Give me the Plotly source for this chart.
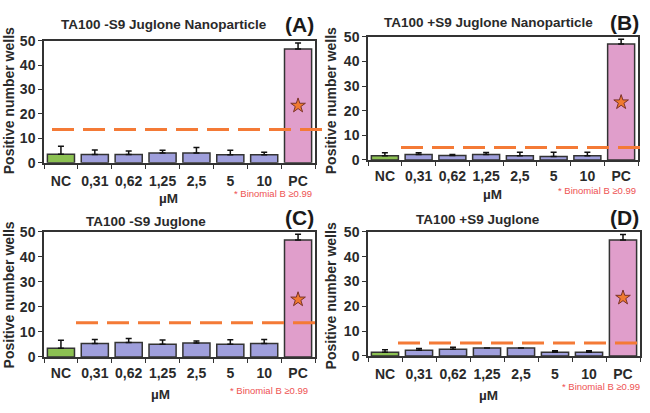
import plotly.graph_objects as go

W, H = 650, 413

categories = ["NC", "0,31", "0,62", "1,25", "2,5", "5", "10", "PC"]

titles = ["TA100 -S9 Juglone Nanoparticle", "TA100 +S9 Juglone Nanoparticle",
          "TA100 -S9 Juglone", "TA100 +S9 Juglone"]
panel_labels = ["(A)", "(B)", "(C)", "(D)"]

means_A = [3.5, 3.4, 3.4, 4.0, 4.0, 3.3, 3.3, 46.6]
sd_A = [3.3, 1.8, 1.4, 1.1, 2.2, 1.8, 1.0, 2.4]
means_B = [1.7, 2.2, 1.8, 2.2, 1.7, 1.4, 1.7, 47.1]
sd_B = [1.2, 0.7, 0.4, 0.8, 1.4, 1.7, 1.4, 1.9]
means_C = [3.5, 5.4, 5.8, 5.1, 5.6, 5.1, 5.4, 46.8]
sd_C = [3.2, 1.6, 1.6, 1.7, 0.8, 1.8, 1.6, 2.3]
means_D = [1.55, 2.3, 2.7, 3.2, 3.2, 1.55, 1.55, 46.8]
sd_D = [1.0, 0.7, 0.8, 0.0, 0.0, 0.6, 0.6, 2.2]

thresholds = [13.6, 5.0, 13.7, 5.2]
star_values = [23.4, 23.4, 23.0, 23.5]

y_title = "Positive number wells"
x_title = "µM"
note = "* Binomial B ≥0.99"

means = [means_A, means_B, means_C, means_D]
sds = [sd_A, sd_B, sd_C, sd_D]

# layout geometry in pixels (left, right, top, bottom)
frames = [(44, 315, 34, 161), (368, 638, 30, 158), (44, 315, 233, 363), (368, 640, 233, 362)]
standoffs = [5, 3, 3, 4]
title_pos = [(164, 17), (488, 15), (146, 222), (478, 220)]
label_pos = [(299, 17), (624, 15), (299, 218), (624, 218)]
ytitle_pos = [(9, 97), (331, 97), (9, 299), (331, 300)]
xtitle_pos = [(168, 198), (493, 194), (160, 402), (488, 403)]
note_pos = [(273, 193), (597, 190), (269, 398), (601, 394)]
dash_x = [(52, 323), (401, 640), (76, 315), (398, 640)]

GREEN = "#8CC152"
LAV = "#9F9FDC"
PINK = "#E09ECB"
EDGE = "#333333"
ORANGE = "#F47A36"

bar_colors = [GREEN] + [LAV] * 6 + [PINK]

FONT = "Liberation Sans, Arial, sans-serif"

fig = go.Figure()
annotations = []
shapes = []

def px(x):
    return x / W

def py(y):
    return 1 - y / H

for i in range(4):
    xa = "x" if i == 0 else f"x{i+1}"
    ya = "y" if i == 0 else f"y{i+1}"
    m = means[i]
    fig.add_trace(go.Bar(
        x=categories, y=m, xaxis=xa, yaxis=ya, width=0.8,
        marker=dict(color=bar_colors, line=dict(color=EDGE, width=1.5)),
        error_y=dict(type="data", symmetric=False, array=sds[i],
                     arrayminus=[0] * len(m), color="#111111", thickness=1.5, width=3),
        showlegend=False, hoverinfo="skip",
    ))
    fig.add_trace(go.Scatter(
        x=[categories[-1]], y=[star_values[i]], xaxis=xa, yaxis=ya, mode="markers",
        marker=dict(symbol="star", size=11, color="#F07A30",
                    line=dict(color="#7A3328", width=1)),
        showlegend=False, hoverinfo="skip",
    ))
    l, r, t, b = frames[i]
    axkey = "xaxis" if i == 0 else f"xaxis{i+1}"
    aykey = "yaxis" if i == 0 else f"yaxis{i+1}"
    fig.update_layout(**{
        axkey: dict(domain=[px(l), px(r)], anchor=ya, type="category",
                    categoryorder="array", categoryarray=categories,
                    range=[-0.5, 7.5], showline=True, mirror=True,
                    linecolor=EDGE, linewidth=1.5, ticks="outside", ticklen=4,
                    tickwidth=1.2, tickcolor=EDGE, tickson="boundaries",
                    showgrid=False, ticklabelstandoff=standoffs[i], tickangle=0,
                    tickfont=dict(family=FONT, size=14, color="#2a2a2a", weight="bold")),
        aykey: dict(domain=[py(b), py(t)], anchor=xa, range=[0, 50], dtick=10,
                    showline=True, mirror=True, linecolor=EDGE, linewidth=1.5,
                    ticks="outside", ticklen=4, tickwidth=1.2, tickcolor=EDGE,
                    showgrid=False, zeroline=False,
                    tickfont=dict(family=FONT, size=14, color="#2a2a2a", weight="bold")),
    })
    x0, x1 = dash_x[i]
    shapes.append(dict(type="line", xref="paper", yref=ya, x0=px(x0), x1=px(x1),
                       y0=thresholds[i], y1=thresholds[i],
                       line=dict(color=ORANGE, width=3, dash="22px,9px"), layer="above"))
    tx, ty = title_pos[i]
    annotations.append(dict(x=px(tx), y=py(ty), xref="paper", yref="paper", text=titles[i],
                            showarrow=False, xanchor="center", yanchor="middle",
                            font=dict(family=FONT, size=13.5, color="#2a2a2a", weight="bold")))
    lx, ly = label_pos[i]
    annotations.append(dict(x=px(lx), y=py(ly), xref="paper", yref="paper", text=panel_labels[i],
                            showarrow=False, xanchor="center", yanchor="middle",
                            font=dict(family=FONT, size=21, color="#1a1a1a", weight="bold")))
    yx, yy = ytitle_pos[i]
    annotations.append(dict(x=px(yx), y=py(yy), xref="paper", yref="paper", text=y_title,
                            showarrow=False, xanchor="center", yanchor="middle", textangle=-90,
                            font=dict(family=FONT, size=14, color="#2a2a2a", weight="bold")))
    mx, my = xtitle_pos[i]
    annotations.append(dict(x=px(mx), y=py(my), xref="paper", yref="paper", text=x_title,
                            showarrow=False, xanchor="center", yanchor="middle",
                            font=dict(family=FONT, size=13.5, color="#2a2a2a", weight="bold")))
    nx, ny = note_pos[i]
    annotations.append(dict(x=px(nx), y=py(ny), xref="paper", yref="paper", text=note,
                            showarrow=False, xanchor="center", yanchor="middle",
                            font=dict(family=FONT, size=9.5, color="#EE5252")))

fig.update_layout(width=W, height=H, autosize=False,
                  margin=dict(l=0, r=0, t=0, b=0),
                  paper_bgcolor="white", plot_bgcolor="white",
                  bargap=0.2, annotations=annotations, shapes=shapes)

fig.write_html("out.html", config={"displayModeBar": False},
               post_script="document.body.style.margin='0';document.body.style.overflow='hidden';")
